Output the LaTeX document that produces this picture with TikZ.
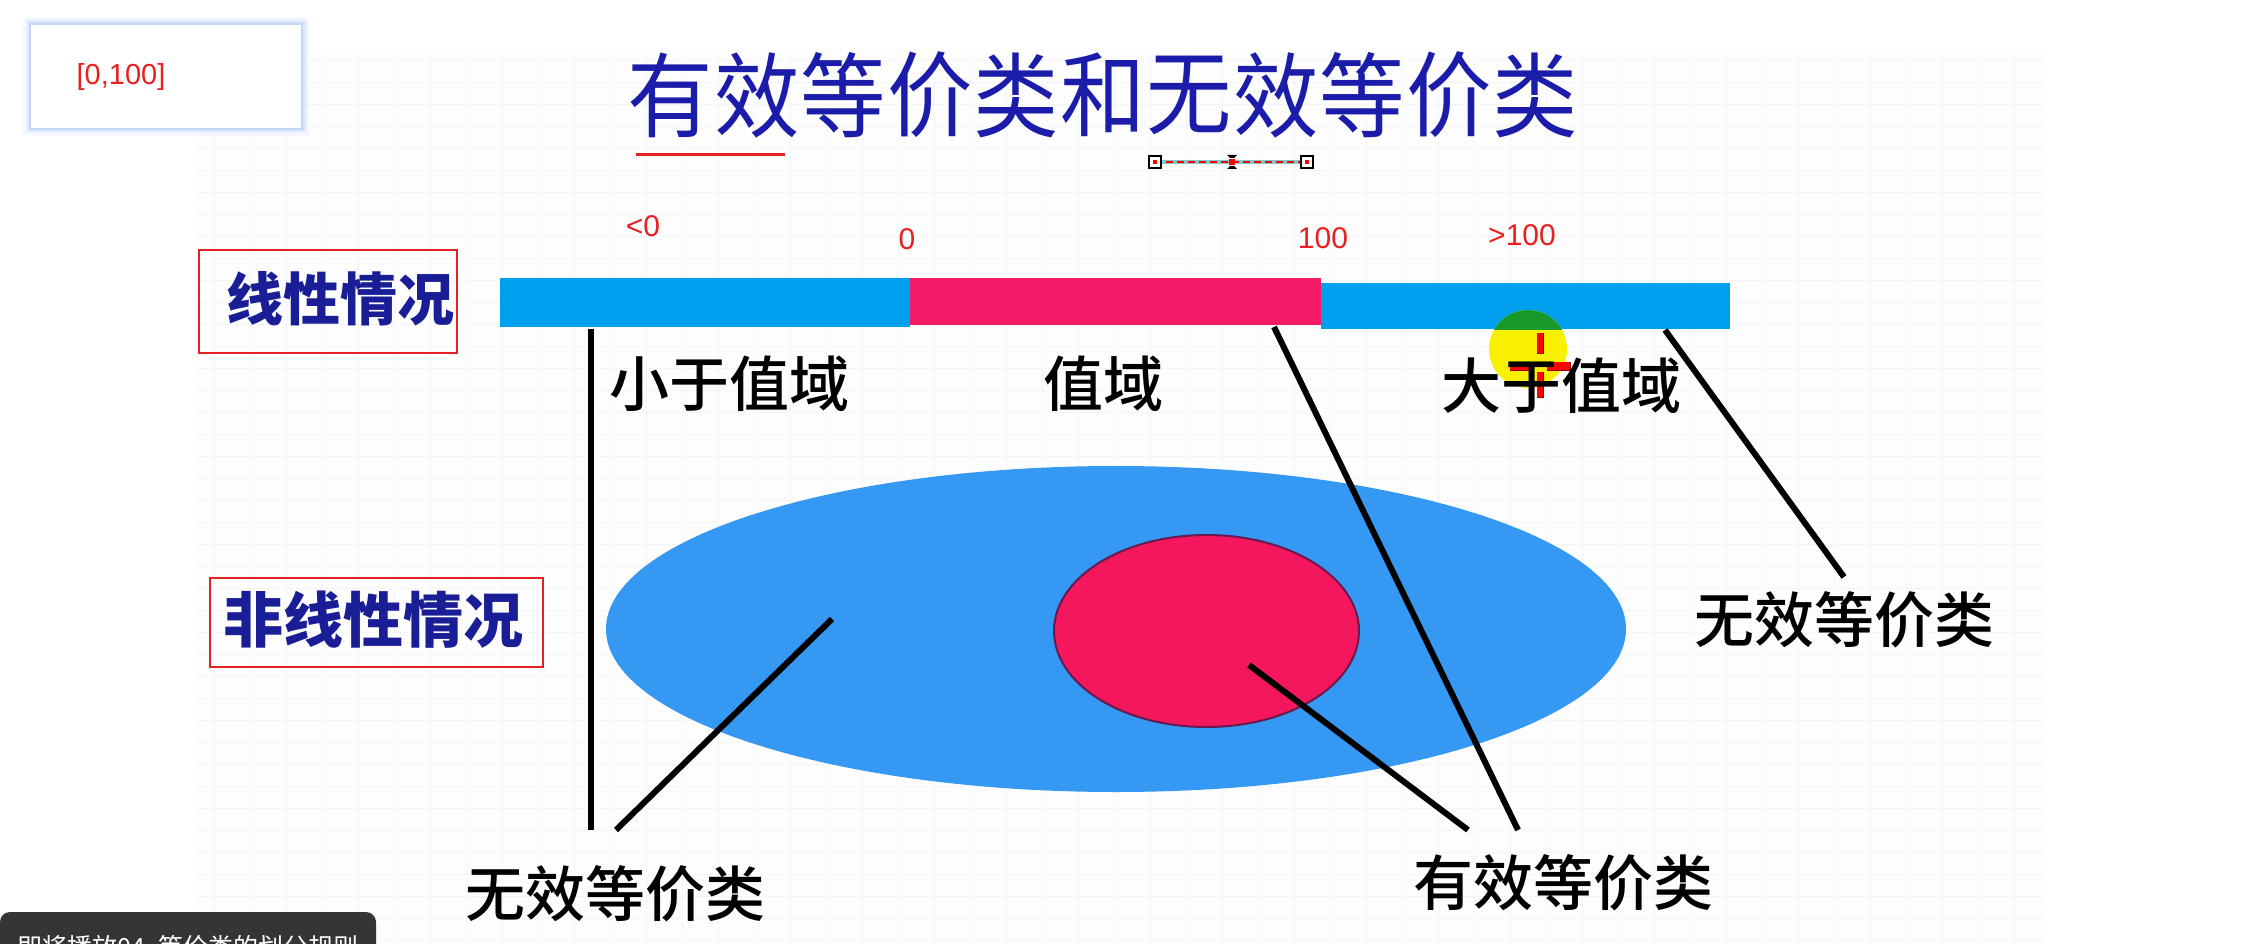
\documentclass[tikz,border=0pt]{standalone}
\usepackage{fontspec}
\setmainfont{Liberation Sans}
\newfontfamily\cjk{Noto Sans CJK SC}
\newfontfamily\cjkm{Noto Sans CJK SC Medium}
\usetikzlibrary{shapes.geometric}
\definecolor{barblue}{HTML}{00A0F0}
\definecolor{barpink}{HTML}{F51A68}
\definecolor{ellblue}{HTML}{3598F2}
\definecolor{ellpink}{HTML}{F5175E}
\definecolor{ellrim}{HTML}{6A1850}
\definecolor{ttlblue}{HTML}{1C1CAA}
\definecolor{lblblue}{HTML}{1A1E96}
\definecolor{redtxt}{HTML}{E82020}
\definecolor{boxred}{HTML}{E52222}
\definecolor{glow}{HTML}{8DB6F5}
\definecolor{slidebg}{HTML}{FDFDFE}
\definecolor{gridc}{HTML}{F4F5F8}
\definecolor{toastc}{HTML}{353535}
\definecolor{curyel}{HTML}{F8F000}
\definecolor{curgreen}{HTML}{189A2A}
\definecolor{handlecyan}{HTML}{7FC8CC}
\begin{document}
\begin{tikzpicture}[x=1pt,y=-1pt,
  ttl/.style={font=\cjk\fontsize{88}{88}\selectfont, text=ttlblue, inner sep=0pt},
  bluelbl/.style={font=\cjk\bfseries\fontsize{57}{57}\selectfont, text=lblblue, inner sep=0pt},
  blacklbl/.style={font=\cjkm\fontsize{60}{60}\selectfont, text=black, inner sep=0pt},
  numlbl/.style={font=\fontsize{30}{30}\selectfont, text=redtxt, inner sep=0pt},
  redbox/.style={draw=boxred, line width=2.5pt, inner sep=0pt},
  barseg/.style={inner sep=0pt, draw=none},
  conn/.style={draw=black, line width=6pt},
  handlesq/.style={draw=black, fill=white, line width=1.5pt, minimum size=12pt, inner sep=0pt}]
\useasboundingbox (0,0) rectangle (2248,944);
\clip (0,0) rectangle (2248,944);
\fill[white] (0,0) rectangle (2248,944);
% slide background with faint grid
\fill[slidebg] (196,50) rectangle (2045,944);
\foreach \gy in {60,82,...,944} \draw[gridc, line width=0.8pt] (196,\gy) -- (2045,\gy);
\foreach \gx in {214,250,...,2045} \draw[gridc, line width=0.6pt] (\gx,50) -- (\gx,944);

% top-left range box with glow
\foreach \w/\o in {16/0.07,11/0.12,7/0.18,4/0.3} \draw[glow, line width=\w pt, opacity=\o] (31,25) rectangle (301,128);
\node[fill=white, inner sep=0pt, minimum width=270pt, minimum height=103pt, anchor=north west] (rangebox) at (31,25) {};
\node[numlbl, font=\fontsize{29}{29}\selectfont] (rangetxt) at (121,77) {[0,100]};

% title
\foreach \c [count=\i] in {有,效,等,价,类,和,无,效,等,价,类}
  \node[ttl] (t\i) at ({627+86.5*(\i-0.5)},95) {\scalebox{0.97}[1.05]{\c}};
\coordinate (ulA) at (636,155);
\coordinate (ulB) at (785,155);
\draw[boxred, line width=3pt] (ulA) -- (ulB);

% selection handle
\coordinate (hA) at (1155,162);
\coordinate (hB) at (1307,162);
\draw[handlecyan, line width=3.5pt] (hA) -- (hB);
\draw[red, line width=2.5pt, dash pattern=on 7pt off 4pt] (hA) -- (hB);
\node[handlesq] (hsqA) at (hA) {};
\node[handlesq] (hsqB) at (hB) {};
\fill[red] (1153,160) rectangle (1157,164);
\fill[red] (1305,160) rectangle (1309,164);
\fill[black] (1227,155) -- (1237,155) -- (1234,158) -- (1230,158) -- cycle;
\fill[black] (1227,169) -- (1237,169) -- (1234,166) -- (1230,166) -- cycle;
\fill[red] (1229,159) rectangle (1235,165);

% number labels
\node[numlbl] (nlt) at (643,226) {<0};
\node[numlbl] (nzero) at (907,239) {0};
\node[numlbl] (nhund) at (1323,238) {100};
\node[numlbl] (ngt) at (1522,235) {>100};

% linear bar
\node[barseg, fill=barblue, minimum width=410pt, minimum height=49pt] (barlo) at (705,302.5) {};
\node[barseg, fill=barpink, minimum width=411pt, minimum height=47pt] (barmid) at (1115.5,301.5) {};
\node[barseg, fill=barblue, minimum width=409pt, minimum height=46pt] (barhi) at (1525.5,306) {};

% cursor highlight
\begin{scope}
  \fill[curyel] (1528,349) circle[radius=39];
  \clip (1320,283) rectangle (1730,329);
  \fill[curgreen] (1528,349) circle[radius=39];
\end{scope}
\foreach \a/\b/\c/\d in {1537/333/1543/353, 1537/372/1543/397, 1510/362/1533/370, 1547/362/1570/370}
  \draw[draw=red!60!black, line width=0.8pt] (\a,\b) rectangle (\c,\d);
\foreach \a/\b/\c/\d in {1537/333/1543/353, 1537/372/1543/397, 1510/362/1533/370, 1547/362/1570/370}
  \fill[red] (\a,\b) rectangle (\c,\d);

% bar labels
\node[blacklbl] (lblless) at (729,384) {小于值域};
\node[blacklbl] (lblrange) at (1103,384) {值域};
\node[blacklbl] (lblmore) at (1561,386) {大于值域};

% case boxes
\node[redbox, minimum width=258pt, minimum height=103pt] (linbox) at (328,301.5) {};
\node[bluelbl] (lintxt) at (340,299) {线性情况};
\node[redbox, minimum width=333pt, minimum height=89pt] (nlinbox) at (376.5,622.5) {};
\node[bluelbl, font=\cjk\bfseries\fontsize{60}{60}\selectfont] (nlintxt) at (373,620) {非线性情况};

% non-linear ellipses
\node[ellipse, fill=ellblue, minimum width=1020pt, minimum height=326pt, inner sep=0pt] (nonlin) at (1116,629) {};
\node[ellipse, fill=ellpink, draw=ellrim, line width=2pt, minimum width=305pt, minimum height=192pt, inner sep=0pt] (validell) at (1206.5,631) {};

% bottom labels
\node[blacklbl] (inv1) at (615,894) {无效等价类};
\node[blacklbl] (valid1) at (1563,883) {有效等价类};
\node[blacklbl] (inv2) at (1844,620) {无效等价类};

% connectors
\coordinate (c1a) at (591,329);
\coordinate (c1b) at (591,830);
\coordinate (c2a) at (832,619);
\coordinate (c2b) at (616,830);
\coordinate (c3a) at (1274,327);
\coordinate (c3b) at (1518,830);
\coordinate (c4a) at (1249,665);
\coordinate (c4b) at (1468,830);
\coordinate (c5a) at (1665,330);
\coordinate (c5b) at (1844,577);
\draw[conn] (c1a) -- (c1b);
\draw[conn] (c2a) -- (c2b);
\draw[conn] (c3a) -- (c3b);
\draw[conn] (c4a) -- (c4b);
\draw[conn] (c5a) -- (c5b);

% toast
\fill[toastc, rounded corners=10pt] (0,912) rectangle (376,980);
\node[font=\cjk\fontsize{25}{25}\selectfont, text=white, inner sep=0pt, anchor=base west] (toasttxt) at (17,956) {即将播放04\_等价类的划分规则};
\end{tikzpicture}
\end{document}
